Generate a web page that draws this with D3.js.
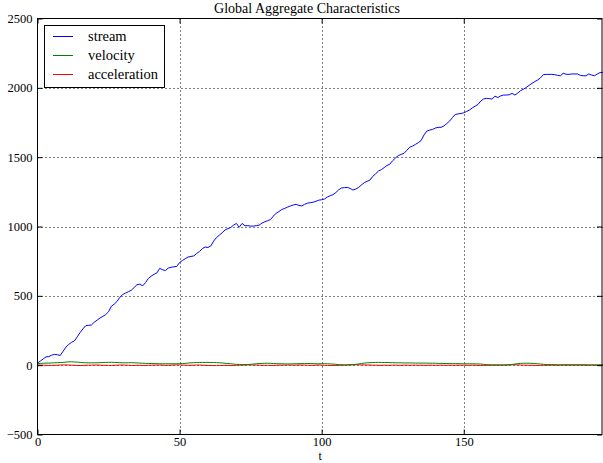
<!DOCTYPE html>
<html>
<head>
<meta charset="utf-8">
<script src="https://cdn.jsdelivr.net/npm/d3@7"></script>
<style>
  html, body { margin: 0; padding: 0; background: #fff; }
  svg text { font-family: "Liberation Serif", "DejaVu Serif", serif; fill: #000; }
</style>
</head>
<body>
<svg id="chart" width="603" height="463"></svg>
<script>
// ---------- data ----------
const title = "Global Aggregate Characteristics";
const xLabel = "t";
const seriesNames = ["stream", "velocity", "acceleration"];
const seriesColors = ["#0000ff", "#008000", "#ff0000"];
const xTicks = [0, 50, 100, 150];
const yTicks = [-500, 0, 500, 1000, 1500, 2000, 2500];

const stream = [
  15, 30, 45, 60, 62, 72, 78, 75, 70, 100,
  130, 150, 165, 175, 205, 235, 262, 285, 287, 290,
  310, 325, 340, 352, 365, 385, 425, 440, 460, 490,
  510, 520, 530, 540, 560, 580, 584, 572, 595, 625,
  642, 655, 665, 698, 688, 682, 700, 706, 709, 712,
  740, 755, 768, 780, 784, 788, 805, 820, 840, 852,
  849, 860, 895, 920, 938, 955, 975, 985, 993, 1010,
  1022, 995, 1022, 1005, 1006, 1003, 1003, 1006, 1010, 1025,
  1034, 1042, 1050, 1075, 1096, 1108, 1123, 1130, 1140, 1148,
  1155, 1160, 1152, 1148, 1160, 1168, 1172, 1175, 1182, 1190,
  1193, 1198, 1213, 1222, 1230, 1245, 1265, 1278, 1280, 1282,
  1275, 1263, 1270, 1282, 1300, 1316, 1326, 1335, 1362, 1380,
  1400, 1410, 1425, 1440, 1450, 1475, 1495, 1512, 1520, 1528,
  1550, 1572, 1580, 1592, 1605, 1620, 1660, 1688, 1695, 1700,
  1710, 1715, 1715, 1725, 1742, 1760, 1785, 1808, 1812, 1815,
  1820, 1830, 1840, 1855, 1868, 1880, 1905, 1920, 1924, 1922,
  1919, 1940, 1930, 1942, 1948, 1948, 1950, 1960, 1948, 1962,
  1980, 1990, 2003, 2018, 2032, 2045, 2056, 2072, 2095, 2097,
  2097, 2097, 2095, 2090, 2087, 2105, 2098, 2097, 2100, 2100,
  2100, 2090, 2087, 2087, 2100, 2092, 2087, 2100, 2110, 2112
];

const velocity = [
  12, 13, 14, 15, 15, 16, 17, 18, 19, 20,
  22, 24, 24, 23, 22, 20, 18, 17, 17, 17,
  17, 17, 18, 19, 20, 20, 21, 20, 19, 18,
  17, 17, 17, 18, 17, 16, 15, 14, 13, 12,
  12, 11, 11, 10, 10, 10, 10, 10, 10, 10,
  11, 12, 13, 15, 17, 18, 19, 19, 20, 20,
  20, 19, 19, 18, 17, 16, 14, 12, 10, 8,
  6, 5, 4, 4, 5, 6, 8, 10, 12, 13,
  14, 14, 13, 12, 11, 10, 10, 9, 9, 9,
  10, 10, 11, 11, 12, 12, 12, 11, 10, 10,
  11, 11, 10, 9, 8, 6, 4, 3, 2, 2,
  3, 4, 6, 9, 12, 15, 17, 18, 19, 20,
  20, 20, 19, 19, 18, 18, 17, 17, 17, 16,
  16, 16, 16, 15, 15, 15, 15, 15, 14, 14,
  14, 13, 13, 12, 12, 12, 11, 11, 11, 10,
  10, 10, 10, 10, 9, 9, 8, 6, 4, 3,
  2, 2, 2, 2, 2, 2, 3, 5, 8, 11,
  13, 14, 14, 14, 13, 12, 10, 8, 6, 5,
  4, 4, 4, 3, 3, 3, 3, 3, 3, 3,
  3, 3, 3, 3, 2, 2, 2, 2, 2, 2
];

const acceleration = [
  2, 1, 0, -1, -2, -2, -1, 0, 1, 2,
  2, 1, 0, -1, -2, -3, -2, -1, 0, 0,
  1, 1, 0, -1, -1, -2, -2, -1, 0, 1,
  1, 0, -1, -2, -2, -1, -1, -2, -2, -1,
  0, 0, 1, 1, 0, -1, -1, 0, 1, 2,
  2, 1, 0, -1, -1, 0, 1, 1, 0, -1,
  -2, -2, -3, -3, -2, -2, -1, -2, -3, -2,
  -1, 0, 1, 1, 2, 2, 1, 1, 0, -1,
  -1, -1, -2, -2, -1, 0, 0, 0, 1, 1,
  0, 0, 1, 1, 0, -1, -1, -1, 0, 1,
  0, -1, -2, -2, -2, -2, -1, 0, 0, 1,
  2, 3, 3, 3, 2, 2, 1, 1, 0, 0,
  -1, -1, 0, -1, -1, 0, 0, -1, -1, 0,
  0, -1, 0, 0, -1, 0, -1, -1, 0, -1,
  -1, -1, 0, -1, -1, 0, -1, -1, 0, -1,
  0, -1, -1, 0, -1, -2, -2, -2, -1, -1,
  0, 0, 0, 0, 1, 1, 2, 3, 3, 2,
  1, 0, 0, -1, -1, -2, -2, -2, -1, -1,
  0, 0, 0, -1, 0, 0, 0, 0, 0, 0,
  0, 0, 0, 0, -1, 0, 0, 0, 0, 0
];

const seriesValues = [stream, velocity, acceleration];

// ---------- layout ----------
const svg = d3.select("#chart");
const W = 603, H = 463;
const plot = { left: 37.5, right: 603, top: 18.5, bottom: 434.5 };

const x = d3.scaleLinear().domain([0, stream.length - 1]).range([plot.left, plot.right]);
const y = d3.scaleLinear().domain([-500, 2500]).range([plot.bottom, plot.top]);

svg.append("rect").attr("width", W).attr("height", H).attr("fill", "#fff");

svg.append("defs").append("clipPath").attr("id", "clip")
  .append("rect")
  .attr("x", plot.left).attr("y", plot.top)
  .attr("width", plot.right - plot.left).attr("height", plot.bottom - plot.top);

// grid
const grid = svg.append("g").attr("class", "grid");
xTicks.filter(t => t > 0).forEach(t => {
  grid.append("line")
    .attr("x1", Math.round(x(t)) + 0.5).attr("x2", Math.round(x(t)) + 0.5)
    .attr("y1", plot.top).attr("y2", plot.bottom)
    .attr("stroke", "#000").attr("stroke-width", 1).attr("stroke-dasharray", "1,3");
});
yTicks.filter(t => t > -500 && t < 2500).forEach(t => {
  grid.append("line")
    .attr("y1", Math.round(y(t)) + 0.5).attr("y2", Math.round(y(t)) + 0.5)
    .attr("x1", plot.left).attr("x2", plot.right)
    .attr("stroke", "#000").attr("stroke-width", 1).attr("stroke-dasharray", "1,3");
});

// lines
const line = d3.line().x((d, i) => x(i)).y(d => y(d));
const lines = svg.append("g").attr("clip-path", "url(#clip)");
[2, 1, 0].forEach(k => {
  lines.append("path")
    .datum(seriesValues[k])
    .attr("fill", "none")
    .attr("stroke", seriesColors[k])
    .attr("stroke-width", 1)
    .attr("stroke-linejoin", "round")
    .attr("d", line);
});

// axes (inward ticks, mirrored)
const fmt = d => d < 0 ? "\u2212" + Math.abs(d) : String(d);
const axB = d3.axisBottom(x).tickValues(xTicks).tickSize(-5).tickPadding(3).tickFormat(fmt);
const axT = d3.axisTop(x).tickValues(xTicks).tickSize(-5).tickFormat("");
const axL = d3.axisLeft(y).tickValues(yTicks).tickSize(-5).tickPadding(5).tickFormat(fmt);
const axR = d3.axisRight(y).tickValues(yTicks).tickSize(-5).tickFormat("");

function styleAxis(g) {
  g.select(".domain").remove();
  g.selectAll(".tick line").attr("stroke", "#000").attr("stroke-width", 1);
  g.selectAll("text").attr("font-size", 12.5).attr("font-family", "Liberation Serif, serif").attr("fill", "#000");
}
svg.append("g").attr("transform", `translate(0,${plot.bottom})`).call(axB).call(styleAxis);
svg.append("g").attr("transform", `translate(0,${plot.top})`).call(axT).call(styleAxis);
svg.append("g").attr("transform", `translate(${plot.left},0)`).call(axL).call(styleAxis);
svg.append("g").attr("transform", `translate(${plot.right - 1},0)`).call(axR).call(styleAxis);

// frame
svg.append("rect")
  .attr("x", plot.left).attr("y", plot.top)
  .attr("width", plot.right - plot.left - 1).attr("height", plot.bottom - plot.top)
  .attr("fill", "none").attr("stroke", "#000").attr("stroke-width", 1);

// title & label
svg.append("text").attr("x", 307).attr("y", 13)
  .attr("text-anchor", "middle").attr("font-size", 14).text(title);
svg.append("text").attr("x", (plot.left + plot.right) / 2).attr("y", 460)
  .attr("text-anchor", "middle").attr("font-size", 12).text(xLabel);

// legend
const lg = svg.append("g");
lg.append("rect").attr("x", 44.5).attr("y", 25.5).attr("width", 120).attr("height", 62)
  .attr("fill", "#fff").attr("stroke", "#000").attr("stroke-width", 1);
seriesNames.forEach((name, i) => {
  const yy = 36.5 + i * 19;
  lg.append("line").attr("x1", 53).attr("x2", 73).attr("y1", yy).attr("y2", yy)
    .attr("stroke", seriesColors[i]).attr("stroke-width", 1);
  lg.append("text").attr("x", 88).attr("y", yy + 4).attr("font-size", 14.5).text(name);
});
</script>
</body>
</html>
